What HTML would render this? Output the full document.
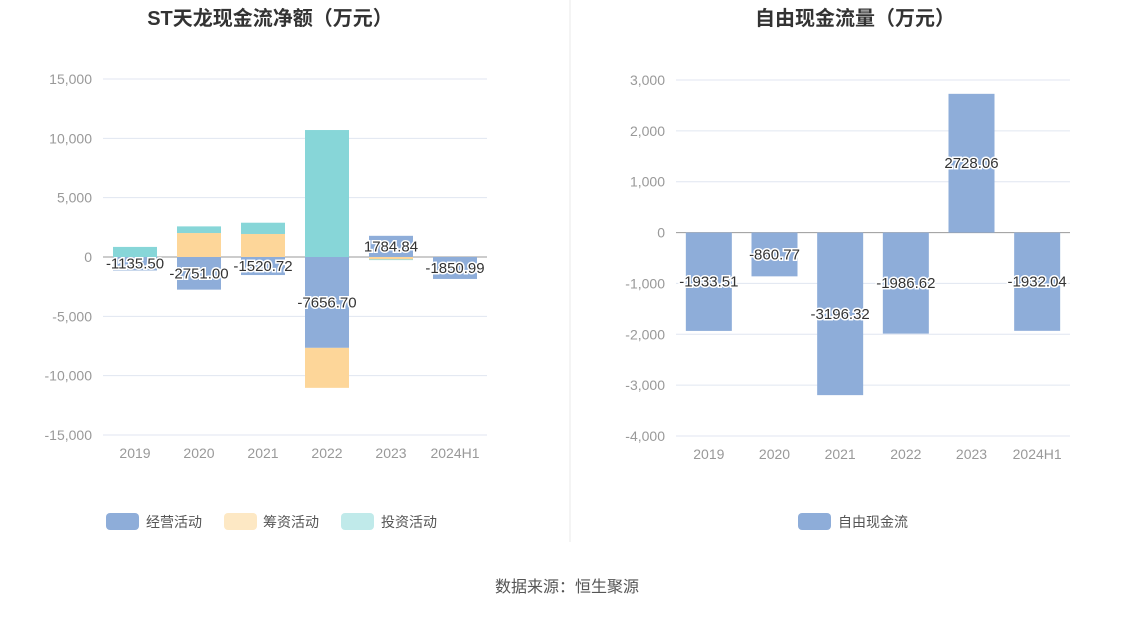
<!DOCTYPE html>
<html><head><meta charset="utf-8"><style>
body{margin:0;background:#fff;font-family:"Liberation Sans","Noto Sans CJK SC",sans-serif;}
svg text{font-family:"Liberation Sans","Noto Sans CJK SC",sans-serif;}
</style></head><body>
<svg id="s" width="1134" height="612">
<text x="270" y="25" text-anchor="middle" font-size="20" font-weight="bold" fill="#333">ST天龙现金流净额（万元）</text>
<text x="855" y="25" text-anchor="middle" font-size="20" font-weight="bold" fill="#333">自由现金流量（万元）</text>
<line x1="570" y1="0" x2="570" y2="542" stroke="#e8e8e8"/>
<g id="L"></g><g id="R"></g>
<g>
<rect x="106" y="513" width="33" height="17" rx="4" fill="#8eadd9"/><text x="146" y="527" font-size="14" fill="#555">经营活动</text>
<rect x="224" y="513" width="33" height="17" rx="4" fill="#fde8c4"/><text x="263" y="527" font-size="14" fill="#555">筹资活动</text>
<rect x="341" y="513" width="33" height="17" rx="4" fill="#c0eaea"/><text x="381" y="527" font-size="14" fill="#555">投资活动</text>
</g>
<g>
<rect x="798" y="513" width="33" height="17" rx="4" fill="#8eadd9"/><text x="838" y="527" font-size="14" fill="#555">自由现金流</text>
</g>
<text x="567" y="592" text-anchor="middle" font-size="16" fill="#555">数据来源：恒生聚源</text>
</svg>
<script>
const categories=["2019","2020","2021","2022","2023","2024H1"];
const operating=[-1135.50,-2751.00,-1520.72,-7656.70,1784.84,-1850.99];
const financing=[0,2020,1940,-3370,-200,0];
const investing=[850,560,950,10700,-60,0];
const leftTicks=[15000,10000,5000,0,-5000,-10000,-15000];
const freeCF=[-1933.51,-860.77,-3196.32,-1986.62,2728.06,-1932.04];
const rightTicks=[3000,2000,1000,0,-1000,-2000,-3000,-4000];
const NS="http://www.w3.org/2000/svg";
function mk(p,t,a){const e=document.createElementNS(NS,t);for(const k in a)e.setAttribute(k,a[k]);p.appendChild(e);return e;}
function fmt(v){return v.toLocaleString('en-US');}
function axes(g,x0,x1,yTop,yBot,ticks,name){
 const mx=ticks[0],mn=ticks[ticks.length-1];
 const y=v=>yTop+(mx-v)/(mx-mn)*(yBot-yTop);
 ticks.forEach(t=>{
  const l=mk(g,'line',{x1:x0,x2:x1,y1:y(t),y2:y(t),stroke:t===0?'#999':'#e0e6f1'});
  
  
  const tx=mk(g,'text',{x:x0-11,y:y(t)+5,'text-anchor':'end','font-size':14,fill:'#999'});
  tx.textContent=fmt(t);
  
  
 });
 const bw=(x1-x0)/categories.length;
 const xc=i=>x0+bw*(i+0.5);
 categories.forEach((c,i)=>{
  const tx=mk(g,'text',{x:xc(i),y:yBot+23,'text-anchor':'middle','font-size':14,fill:'#999'});
  tx.textContent=c;
  
  
 });
 return {y,xc,bw};
}
function label(g,x,yy,v,name){
 const t=mk(g,'text',{x:x,y:yy+5,'text-anchor':'middle','font-size':15,fill:'#333',stroke:'#fff','stroke-width':3,'paint-order':'stroke'});
 t.textContent=v.toFixed(2);
 
 
}
const L=document.getElementById('L');
const a=axes(L,103,487,79,435,leftTicks,'left');
const series=[[operating,'#8eadd9','operating'],[financing,'#fdd699','financing'],[investing,'#87d6d8','investing']];
categories.forEach((c,i)=>{
 let pos=0,neg=0;
 series.forEach(([arr,col,nm])=>{
  const v=arr[i];if(!v)return;
  let s=v>0?pos:neg,e=s+v;
  if(v>0)pos=e;else neg=e;
  const r=mk(L,'rect',{x:a.xc(i)-22,width:44,y:Math.min(a.y(s),a.y(e)),height:Math.abs(a.y(s)-a.y(e)),fill:col});
  
  
 });
});
operating.forEach((v,i)=>label(L,a.xc(i),a.y(v/2),v,'label-operating-'+categories[i]));
const R=document.getElementById('R');
const b=axes(R,676,1070,80,436,rightTicks,'right');
freeCF.forEach((v,i)=>{
 const r=mk(R,'rect',{x:b.xc(i)-23,width:46,y:Math.min(b.y(0),b.y(v)),height:Math.abs(b.y(v)-b.y(0)),fill:'#8eadd9'});
 
 
});
freeCF.forEach((v,i)=>label(R,b.xc(i),b.y(v/2),v,'label-free-cash-flow-'+categories[i]));
</script>
</body></html>
